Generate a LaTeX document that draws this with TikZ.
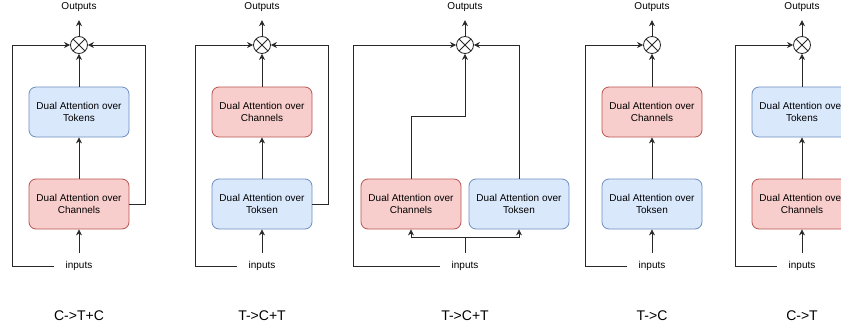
\documentclass[tikz,border=0pt]{standalone}
\usepackage{fontspec}
\setmainfont{Liberation Sans}
\definecolor{tokfill}{RGB}{218, 232, 252}
\definecolor{tokdraw}{RGB}{108, 142, 191}
\definecolor{chanfill}{RGB}{248, 206, 204}
\definecolor{chandraw}{RGB}{184, 84, 80}
\definecolor{wire}{RGB}{40, 40, 40}
\usetikzlibrary{arrows.meta, positioning, calc}

\tikzset{
  attn/.style={draw, rounded corners=7pt, line width=0.8pt, minimum width=100pt,
    minimum height=50pt, inner sep=0pt, align=center, font=\fontsize{10}{12}\selectfont},
  tokbox/.style={attn, fill=tokfill, draw=tokdraw},
  chanbox/.style={attn, fill=chanfill, draw=chandraw},
  mult/.style={circle, draw=wire, line width=0.8pt, minimum size=17pt, inner sep=0pt,
    path picture={
      \draw[wire, line width=0.8pt] (path picture bounding box.north west) -- (path picture bounding box.south east)
        (path picture bounding box.north east) -- (path picture bounding box.south west);}},
  io/.style={font=\fontsize{10}{12}\selectfont, minimum width=50pt, minimum height=26pt, inner sep=0pt},
  caption/.style={font=\fontsize{14}{16}\selectfont},
  link/.style={draw=wire, line width=0.8pt, -{Stealth[length=6pt, width=6pt]}},
  wireline/.style={draw=wire, line width=0.8pt}
}

\begin{document}
\begin{tikzpicture}[x=1pt, y=-1pt]
  \useasboundingbox (0,0) rectangle (841,327);
  \clip (0,0) rectangle (841,327);

  %% C->T+C
  \node[io] (out1) at (79,7) {Outputs};
  \node[mult] (mul1) at (79,45) {};
  \node[tokbox] (top1) at (79,112) {Dual Attention over\\Tokens};
  \node[chanbox] (bot1) at (79,204) {Dual Attention over\\Channels};
  \node[io] (in1) at (79,266) {inputs};
  \node[caption] (cap1) at (79,316) {C->T+C};
  \coordinate (l1) at (12,45);
  \coordinate (r1) at (145,45);
  \draw[link] (mul1) -- (out1);
  \draw[link] (top1) -- (mul1);
  \draw[link] (bot1) -- (top1);
  \draw[link] (in1) -- (bot1);
  \draw[link] (in1.west) -| (l1) -- (mul1);
  \draw[link] (bot1.east) -| (r1) -- (mul1);

  %% T->C+T
  \node[io] (out2) at (262,7) {Outputs};
  \node[mult] (mul2) at (262,45) {};
  \node[chanbox] (top2) at (262,112) {Dual Attention over\\Channels};
  \node[tokbox] (bot2) at (262,204) {Dual Attention over\\Toksen};
  \node[io] (in2) at (262,266) {inputs};
  \node[caption] (cap2) at (262,316) {T->C+T};
  \coordinate (l2) at (195,45);
  \coordinate (r2) at (328,45);
  \draw[link] (mul2) -- (out2);
  \draw[link] (top2) -- (mul2);
  \draw[link] (bot2) -- (top2);
  \draw[link] (in2) -- (bot2);
  \draw[link] (in2.west) -| (l2) -- (mul2);
  \draw[link] (bot2.east) -| (r2) -- (mul2);

  %% T->C+T, parallel
  \node[io] (out3) at (465,7) {Outputs};
  \node[mult] (mul3) at (465,45) {};
  \node[chanbox] (botL3) at (411,204) {Dual Attention over\\Channels};
  \node[tokbox] (botR3) at (519,204) {Dual Attention over\\Toksen};
  \node[io] (in3) at (465,266) {inputs};
  \node[caption] (cap3) at (465,316) {T->C+T};
  \coordinate (l3) at (353,45);
  \coordinate (j3) at (465,116);
  \coordinate (split3) at (465,237);
  \draw[link] (mul3) -- (out3);
  \draw[wireline] (in3) -- (split3);
  \draw[link] (split3) -| (botL3);
  \draw[link] (split3) -| (botR3);
  \draw[link] (botL3) |- (j3) -- (mul3);
  \draw[link] (botR3) |- (mul3);
  \draw[link] (in3.west) -| (l3) -- (mul3);

  %% T->C
  \node[io] (out4) at (652,7) {Outputs};
  \node[mult] (mul4) at (652,45) {};
  \node[chanbox] (top4) at (652,112) {Dual Attention over\\Channels};
  \node[tokbox] (bot4) at (652,204) {Dual Attention over\\Toksen};
  \node[io] (in4) at (652,266) {inputs};
  \node[caption] (cap4) at (652,316) {T->C};
  \coordinate (l4) at (585,45);
  \draw[link] (mul4) -- (out4);
  \draw[link] (top4) -- (mul4);
  \draw[link] (bot4) -- (top4);
  \draw[link] (in4) -- (bot4);
  \draw[link] (in4.west) -| (l4) -- (mul4);

  %% C->T
  \node[io] (out5) at (802,7) {Outputs};
  \node[mult] (mul5) at (802,45) {};
  \node[tokbox] (top5) at (802,112) {Dual Attention over\\Tokens};
  \node[chanbox] (bot5) at (802,204) {Dual Attention over\\Channels};
  \node[io] (in5) at (802,266) {inputs};
  \node[caption] (cap5) at (802,316) {C->T};
  \coordinate (l5) at (735,45);
  \draw[link] (mul5) -- (out5);
  \draw[link] (top5) -- (mul5);
  \draw[link] (bot5) -- (top5);
  \draw[link] (in5) -- (bot5);
  \draw[link] (in5.west) -| (l5) -- (mul5);
\end{tikzpicture}
\end{document}
